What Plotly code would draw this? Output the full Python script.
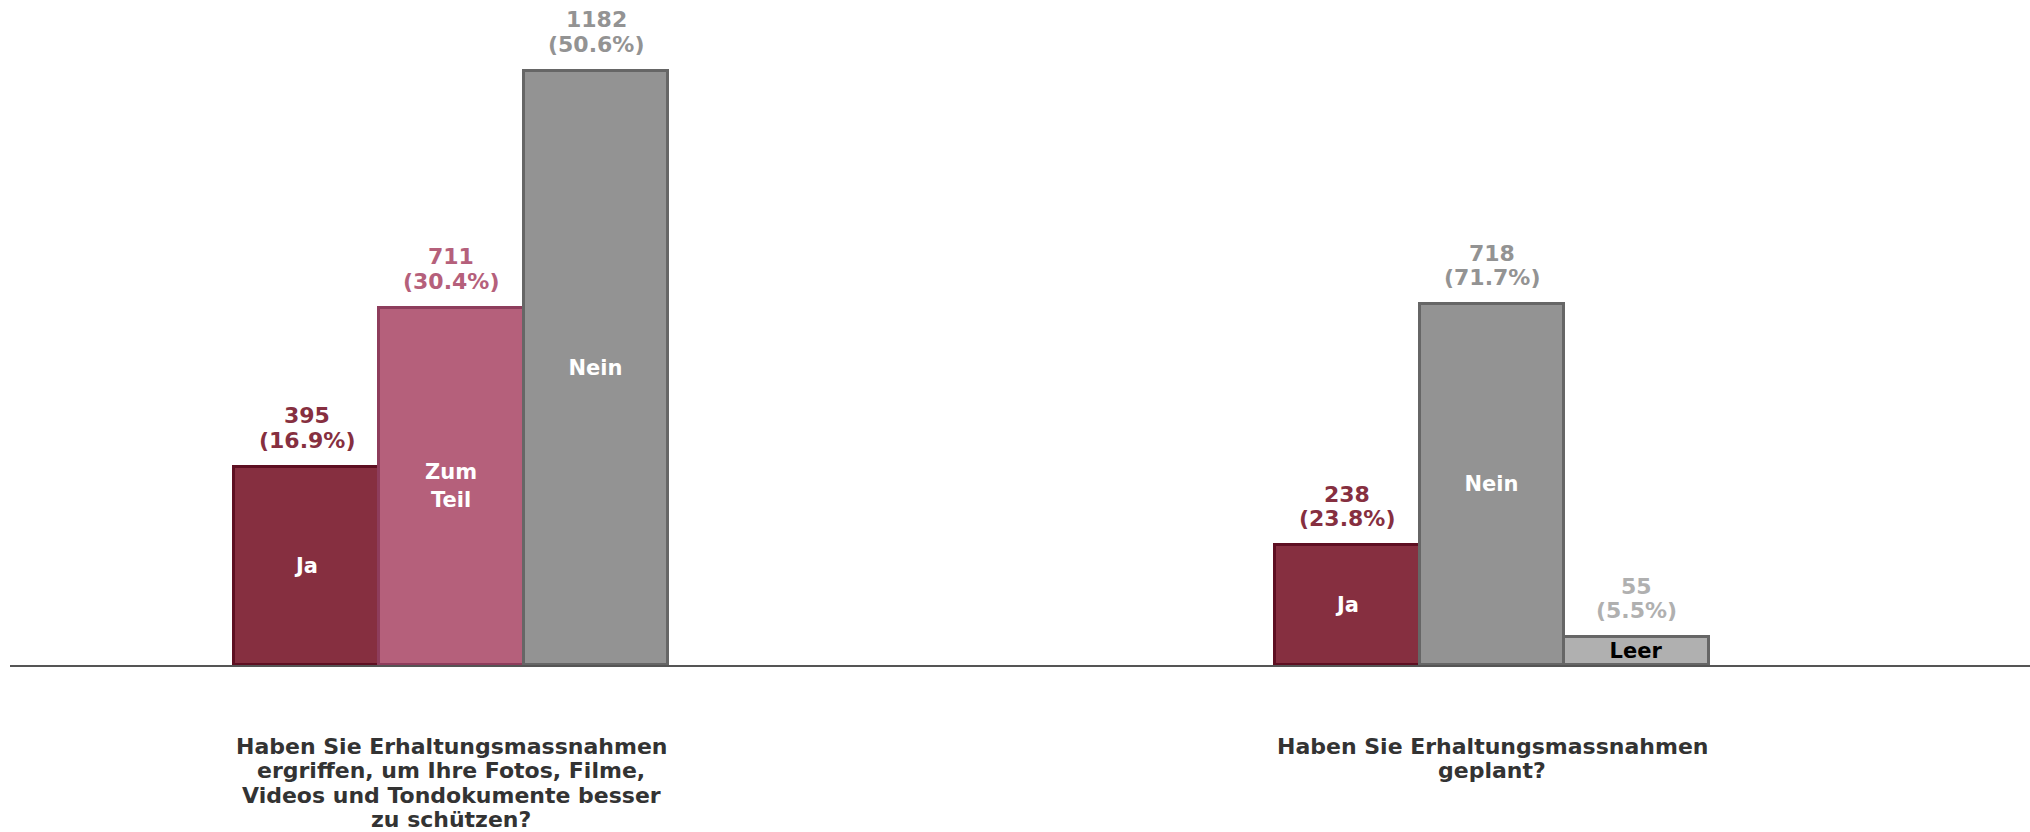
import plotly.graph_objects as go

# ---- data ----
questions = [
    ["Haben Sie Erhaltungsmassnahmen", "ergriffen, um Ihre Fotos, Filme,",
     "Videos und Tondokumente besser", "zu schützen?"],
    ["Haben Sie Erhaltungsmassnahmen", "geplant?"],
]
q1_categories = ["Ja", "Zum Teil", "Nein"]
q1_counts = [395, 711, 1182]
q1_percents = [16.9, 30.4, 50.6]

q2_categories = ["Ja", "Nein", "Leer"]
q2_counts = [238, 718, 55]
q2_percents = [23.8, 71.7, 5.5]

# ---- styles ----
fill = {"Ja": "#862F40", "Zum Teil": "#B5607B", "Nein": "#939393", "Leer": "#B0B0B0"}
edge = {"Ja": "#5E0F22", "Zum Teil": "#8E3D5C", "Nein": "#666666", "Leer": "#666666"}
label_col = {"Ja": "#862F40", "Zum Teil": "#B5607B", "Nein": "#939393", "Leer": "#B0B0B0"}
inside_col = {"Ja": "white", "Zum Teil": "white", "Nein": "white", "Leer": "black"}
inside_txt = {"Ja": "Ja", "Zum Teil": "Zum<br>Teil", "Nein": "Nein", "Leer": "Leer"}

FONT = "DejaVu Sans"
W = 0.139
LINE = 24.6

fig = go.Figure()
annotations = []
groups = [(q1_categories, q1_counts, q1_percents), (q2_categories, q2_counts, q2_percents)]
for gi, (cats, counts, pcts) in enumerate(groups):
    n = len(cats)
    xs = [gi + (i - (n - 1) / 2) * W for i in range(n)]
    fig.add_trace(go.Bar(
        x=xs, y=counts, width=W,
        marker=dict(color=[fill[c] for c in cats],
                    line=dict(color=[edge[c] for c in cats], width=3)),
        text=[inside_txt[c] for c in cats],
        textposition="inside", insidetextanchor="middle", textangle=0,
        constraintext="none",
        textfont=dict(family=FONT, size=21, weight="bold",
                      color=[inside_col[c] for c in cats]),
        hoverinfo="skip", showlegend=False, cliponaxis=False,
    ))
    for x, c, v, p in zip(xs, cats, counts, pcts):
        for k, line in enumerate([f"({p}%)", f"{v}"]):
            annotations.append(dict(
                x=x, y=v, xref="x", yref="y", yanchor="middle", xanchor="center",
                text=line, showarrow=False, yshift=26.5 + k * LINE,
                font=dict(family=FONT, size=22, weight="bold", color=label_col[c]),
            ))
    for k, line in enumerate(questions[gi]):
        annotations.append(dict(
            x=gi, y=0, xref="x", yref="paper", yanchor="middle", xanchor="center",
            text=line, showarrow=False, yshift=-(81 + k * LINE),
            font=dict(family=FONT, size=22, weight="bold", color="#333333"),
        ))

fig.update_layout(
    width=2030, height=832,
    margin=dict(l=10, r=0, t=0, b=167),
    paper_bgcolor="white", plot_bgcolor="white",
    bargap=0,
    annotations=annotations,
    xaxis=dict(range=[-0.4241, 1.5168], showgrid=False, zeroline=False,
               showticklabels=False, ticks="", showline=True,
               linecolor="#555555", linewidth=2),
    yaxis=dict(range=[0, 1323.3], showgrid=False, zeroline=False,
               showticklabels=False, ticks="", showline=False),
)

fig.write_html(
    "out.html",
    config={"displayModeBar": False},
    post_script="document.body.style.margin='0';document.body.style.overflow='hidden';",
)
